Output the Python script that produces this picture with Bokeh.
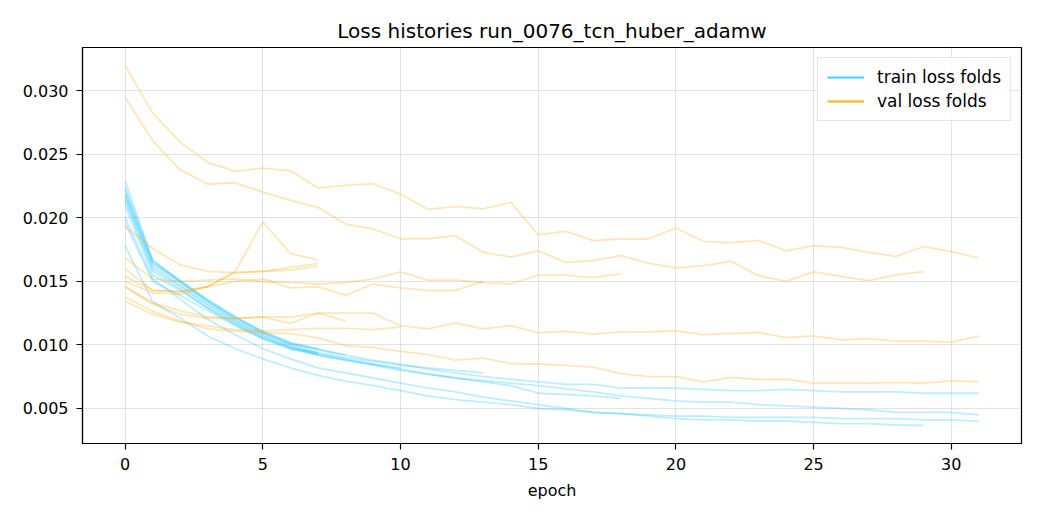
from bokeh.plotting import figure
from bokeh.models import Range1d, FixedTicker, Legend, LegendItem
from bokeh.embed import file_html
from bokeh.resources import INLINE

TITLE = "Loss histories run_0076_tcn_huber_adamw"
X_LABEL = "epoch"
TRAIN_LABEL = "train loss folds"
VAL_LABEL = "val loss folds"
x_ticks = [0, 5, 10, 15, 20, 25, 30]
y_ticks = [0.005, 0.010, 0.015, 0.020, 0.025, 0.030]
y_tick_labels = ["0.005", "0.010", "0.015", "0.020", "0.025", "0.030"]

# ---- train loss per fold ----
train_fold_1 = [0.0222, 0.0165, 0.0150, 0.0135, 0.0122, 0.0111, 0.0102, 0.0097, 0.0092, 0.0088,
                0.0085, 0.0081, 0.0078, 0.0075, 0.0073, 0.0071, 0.0069, 0.0069, 0.0066, 0.0066,
                0.0066, 0.0065, 0.0064, 0.0064, 0.0065, 0.0064, 0.0063, 0.0063, 0.0063, 0.0062,
                0.0062, 0.0062]
train_fold_2 = [0.0218, 0.0162, 0.0147, 0.0132, 0.0119, 0.0108, 0.0099, 0.0093, 0.0089, 0.0085,
                0.0081, 0.0077, 0.0074, 0.0072, 0.0070, 0.0068, 0.00655, 0.0063, 0.0060, 0.0058,
                0.0056, 0.0055, 0.0055, 0.0053, 0.0052, 0.0051, 0.0050, 0.0049, 0.0047, 0.0047,
                0.0047, 0.0045]
train_fold_3 = [0.0200, 0.0152, 0.0136, 0.0120, 0.0108, 0.0097, 0.0089, 0.0082, 0.0078, 0.0074,
                0.0070, 0.0066, 0.0063, 0.0059, 0.0056, 0.0053, 0.0050, 0.0047, 0.0046, 0.0045,
                0.0044, 0.0044, 0.0043, 0.0043, 0.0043, 0.0043, 0.0042, 0.0042, 0.0042, 0.0041,
                0.0041, 0.0040]
train_fold_4 = [0.0178, 0.0134, 0.0121, 0.0107, 0.0097, 0.0089, 0.0082, 0.0076, 0.00715, 0.0068,
                0.0064, 0.0060, 0.0057, 0.0055, 0.0053, 0.0050, 0.0049, 0.0047, 0.0046, 0.0044,
                0.0042, 0.0041, 0.0041, 0.0040, 0.0040, 0.0039, 0.0038, 0.0038, 0.0037, 0.00366]
train_fold_5 = [0.0215, 0.0160, 0.0146, 0.0131, 0.0118, 0.0107, 0.0098, 0.0092, 0.0088, 0.0084,
                0.0080, 0.0077, 0.0074, 0.0071, 0.0068, 0.0062, 0.0061, 0.0060, 0.0058]
train_fold_6 = [0.0229, 0.0167, 0.0150, 0.0134, 0.0120, 0.0109, 0.0100, 0.0094, 0.0090, 0.0087,
                0.0084, 0.0082, 0.0080, 0.0078]
train_fold_7 = [0.0213, 0.0158, 0.0144, 0.0129, 0.0116, 0.0105, 0.0097, 0.0092, 0.0088, 0.0085,
                0.0082]
train_fold_8 = [0.0224, 0.0166, 0.0151, 0.0136, 0.0122, 0.0110, 0.0101, 0.0096, 0.0092]
train_fold_9 = [0.0219, 0.0164, 0.0149, 0.0134, 0.0121, 0.0110, 0.0101, 0.0097]
train_fold_10 = [0.0209, 0.0155, 0.0143, 0.0129, 0.0117, 0.0106, 0.0098, 0.0094]
train_fold_11 = [0.0196, 0.0150, 0.0139, 0.0127, 0.0115, 0.0105, 0.0097, 0.0093]

# ---- validation loss per fold ----
val_fold_1 = [0.0320, 0.02825, 0.02597, 0.02437, 0.02366, 0.02392, 0.02371, 0.02235, 0.02256, 0.02269,
              0.02188, 0.02067, 0.02091, 0.02072, 0.02122, 0.01868, 0.01894, 0.01821, 0.01834, 0.01834,
              0.01921, 0.01816, 0.01803, 0.01824, 0.0174, 0.01781, 0.01768, 0.01729, 0.01697, 0.01774,
              0.01734, 0.01685]
val_fold_2 = [0.02948, 0.02607, 0.02379, 0.02266, 0.02277, 0.02204, 0.02138, 0.02083, 0.01952, 0.01913,
              0.01836, 0.01836, 0.0186, 0.01729, 0.01692, 0.0174, 0.0165, 0.01664, 0.01703, 0.01645,
              0.01606, 0.01624, 0.01658, 0.01546, 0.01501, 0.01575, 0.0154, 0.01506, 0.01551, 0.01577]
val_fold_3 = [0.01378, 0.01265, 0.01187, 0.01127, 0.0111, 0.01095, 0.0109, 0.01056, 0.00995, 0.0098,
              0.0095, 0.00924, 0.0088, 0.00896, 0.00854, 0.0085, 0.0084, 0.00825, 0.00775, 0.0075,
              0.0075, 0.0071, 0.00744, 0.00728, 0.0073, 0.0070, 0.0070, 0.0070, 0.00705, 0.0070,
              0.00717, 0.00712]
val_fold_4 = [0.0146, 0.0133, 0.0127, 0.0122, 0.0121, 0.0122, 0.0117, 0.0125, 0.0125, 0.0125,
              0.01153, 0.01127, 0.01174, 0.01127, 0.01153, 0.01095, 0.01108, 0.01085, 0.01103, 0.01103,
              0.01111, 0.01082, 0.01092, 0.01098, 0.01058, 0.01072, 0.0104, 0.0105, 0.0103, 0.0103,
              0.01022, 0.01069]
val_fold_5 = [0.01685, 0.0152, 0.0150, 0.0151, 0.0152, 0.0150, 0.0149, 0.0148, 0.0149, 0.0152,
              0.01575, 0.0151, 0.0151, 0.0149, 0.0148, 0.0155, 0.0155, 0.0153, 0.0156]
val_fold_6 = [0.0150, 0.0141, 0.0140, 0.0146, 0.0150, 0.0152, 0.0145, 0.0146, 0.0139, 0.0148,
              0.0145, 0.0143, 0.0143, 0.0150]
val_fold_7 = [0.01344, 0.0124, 0.0118, 0.0115, 0.0112, 0.0111, 0.0112, 0.0113, 0.0113, 0.0112,
              0.0114]
val_fold_8 = [0.01457, 0.0132, 0.0124, 0.0121, 0.0121, 0.0122, 0.0122, 0.0125, 0.0119]
val_fold_9 = [0.0193, 0.0176, 0.0163, 0.0158, 0.0157, 0.0158, 0.0159, 0.0162]
val_fold_10 = [0.0160, 0.0143, 0.0142, 0.0146, 0.0158, 0.0197, 0.0172, 0.0167]
val_fold_11 = [0.0154, 0.0143, 0.0142, 0.0146, 0.0157, 0.0158, 0.0161, 0.0164]

train_folds = [train_fold_1, train_fold_2, train_fold_3, train_fold_4, train_fold_5, train_fold_6,
               train_fold_7, train_fold_8, train_fold_9, train_fold_10, train_fold_11]
val_folds = [val_fold_1, val_fold_2, val_fold_3, val_fold_4, val_fold_5, val_fold_6,
             val_fold_7, val_fold_8, val_fold_9, val_fold_10, val_fold_11]

FONT = "DejaVu Sans"
TRAIN_COLOR = "#00BFFF"
VAL_COLOR = "#FFA500"

# matplotlib-like 5% autoscale margins
all_vals = [v for f in train_folds + val_folds for v in f]
ymin, ymax = min(all_vals), max(all_vals)
ypad = 0.05 * (ymax - ymin)
xmax = max(len(f) for f in train_folds + val_folds) - 1
xpad = 0.05 * xmax

p = figure(width=1032, height=512, output_backend="svg", toolbar_location=None,
           x_range=Range1d(-xpad, xmax + xpad), y_range=Range1d(ymin - ypad, ymax + ypad),
           min_border_left=82, min_border_right=11, min_border_top=47, min_border_bottom=69,
           title=TITLE)
p.background_fill_color = "white"
p.border_fill_color = "white"
p.outline_line_color = "black"
p.outline_line_width = 1.2

p.title.align = "center"
p.title.text_font = FONT
p.title.text_font_size = "20px"
p.title.text_font_style = "normal"
p.title.text_color = "black"

for ax in (p.xaxis[0], p.yaxis[0]):
    ax.axis_line_color = "black"
    ax.axis_line_width = 1.2
    ax.major_tick_line_color = "black"
    ax.major_tick_line_width = 1.2
    ax.major_tick_in = 0
    ax.major_tick_out = 6
    ax.minor_tick_line_color = None
    ax.major_label_text_font = FONT
    ax.major_label_text_font_size = "16px"
    ax.major_label_text_color = "black"
    ax.major_label_standoff = 8

p.xaxis.ticker = FixedTicker(ticks=x_ticks)
p.yaxis.ticker = FixedTicker(ticks=y_ticks)
p.yaxis.major_label_overrides = {t: s for t, s in zip(y_ticks, y_tick_labels)}
p.xaxis.axis_label = X_LABEL
p.xaxis.axis_label_text_font = FONT
p.xaxis.axis_label_text_font_size = "16px"
p.xaxis.axis_label_text_font_style = "normal"
p.xaxis.axis_label_text_color = "black"
p.xaxis.axis_label_standoff = 8

p.xgrid.ticker = FixedTicker(ticks=x_ticks)
p.ygrid.ticker = FixedTicker(ticks=y_ticks)
for g in (p.xgrid[0], p.ygrid[0]):
    g.grid_line_color = "#b0b0b0"
    g.grid_line_alpha = 0.35
    g.grid_line_width = 1

for f in train_folds:
    p.line(x=list(range(len(f))), y=f, line_color=TRAIN_COLOR, line_alpha=0.26, line_width=1.8)
for f in val_folds:
    p.line(x=list(range(len(f))), y=f, line_color=VAL_COLOR, line_alpha=0.28, line_width=1.8)

# legend proxies (single NaN point so nothing is drawn in the plot area)
nan = float("nan")
r_train = p.line(x=[nan], y=[nan], line_color=TRAIN_COLOR, line_alpha=0.75, line_width=2.2)
r_val = p.line(x=[nan], y=[nan], line_color=VAL_COLOR, line_alpha=0.9, line_width=2.2)
legend = Legend(items=[LegendItem(label=TRAIN_LABEL, renderers=[r_train]),
                       LegendItem(label=VAL_LABEL, renderers=[r_val])],
                location="top_right")
legend.label_text_font = FONT
legend.label_text_font_size = "17px"
legend.label_text_color = "black"
legend.glyph_width = 37
legend.label_standoff = 13
legend.padding = 9
legend.spacing = 4
legend.margin = 10
legend.border_line_color = "#cccccc"
legend.border_line_width = 1
legend.background_fill_color = "white"
legend.background_fill_alpha = 0.8
p.add_layout(legend)

open("out.html", "w").write(file_html(p, INLINE))
